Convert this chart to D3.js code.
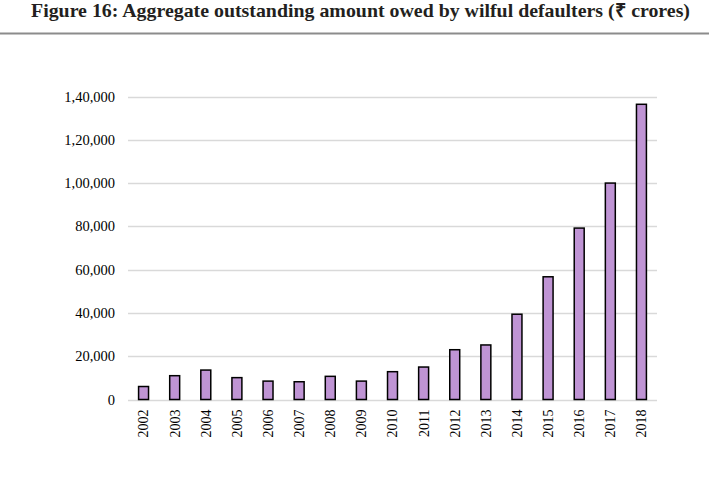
<!DOCTYPE html>
<html>
<head>
<meta charset="utf-8">
<script src="https://cdn.jsdelivr.net/npm/d3@7"></script>
<style>
html,body{margin:0;padding:0;background:#fff;}
svg{display:block;}
</style>
</head>
<body>
<svg id="chart" width="709" height="477"></svg>
<script>
const years = ["2002","2003","2004","2005","2006","2007","2008","2009","2010","2011","2012","2013","2014","2015","2016","2017","2018"];
const amounts = [6000,11000,13600,10100,8500,8200,10700,8500,12850,15000,23000,25200,39400,56700,79200,100000,136400];
const yTicks = [0,20000,40000,60000,80000,100000,120000,140000];
const yTickLabels = ["0","20,000","40,000","60,000","80,000","1,00,000","1,20,000","1,40,000"];
const title = "Figure 16: Aggregate outstanding amount owed by wilful defaulters (\u20B9 crores)";

const svg = d3.select("#chart");
const W = 709, H = 477;
const m = {left:128, right:52, top:96.5, bottom:77.5};

const x = d3.scaleBand().domain(years).range([m.left, W - m.right]).paddingInner(0.68).paddingOuter(0.34);
const y = d3.scaleLinear().domain([0,140000]).range([H - m.bottom, m.top]);

// title
const t = svg.append("text")
  .attr("x", 360.5).attr("y", 17)
  .attr("text-anchor","middle")
  .attr("font-family","'Liberation Serif','Times New Roman',serif")
  .attr("font-weight","bold")
  .attr("font-size", 19)
  .attr("fill","#231f20")
  .text(title);
const tw = t.node().getComputedTextLength();
if (Math.abs(tw - 659) > 4) t.attr("textLength", 659).attr("lengthAdjust","spacingAndGlyphs");

svg.append("rect").attr("x",0).attr("y",32.5).attr("width",W).attr("height",2).attr("fill","#8c8c8c");

// grid
const grid = svg.append("g");
grid.selectAll("line").data(yTicks).join("line")
  .attr("x1", m.left).attr("x2", W - m.right)
  .attr("y1", d => Math.round(y(d)) + 0.5).attr("y2", d => Math.round(y(d)) + 0.5)
  .attr("stroke","#d9d9d9").attr("stroke-width",1.5);

// y axis labels
const yAxis = d3.axisLeft(y).tickValues(yTicks).tickFormat((d,i) => yTickLabels[yTicks.indexOf(d)]).tickSize(0).tickPadding(13);
const gy = svg.append("g").attr("transform",`translate(${m.left},0)`).call(yAxis);
gy.select(".domain").remove();
gy.selectAll("text")
  .attr("font-family","'Liberation Serif','Times New Roman',serif")
  .attr("font-size", 14.5).attr("fill","#000");

// bars
svg.append("g").selectAll("rect").data(years).join("rect")
  .attr("x", d => x(d))
  .attr("y", (d,i) => y(amounts[i]))
  .attr("width", x.bandwidth())
  .attr("height", (d,i) => y(0) - y(amounts[i]))
  .attr("fill","#bf94d4")
  .attr("stroke","#000").attr("stroke-width",1.5);

// x axis labels
const xAxis = d3.axisBottom(x).tickSize(0).tickPadding(0);
const gx = svg.append("g").attr("transform",`translate(0,${H - m.bottom})`).call(xAxis);
gx.select(".domain").remove();
gx.selectAll("text")
  .attr("font-family","'Liberation Serif','Times New Roman',serif")
  .attr("font-size", 14).attr("fill","#000")
  .attr("transform","rotate(-90)")
  .attr("text-anchor","end")
  .attr("x", -10).attr("y", 0).attr("dy","0.35em");
</script>
</body>
</html>
